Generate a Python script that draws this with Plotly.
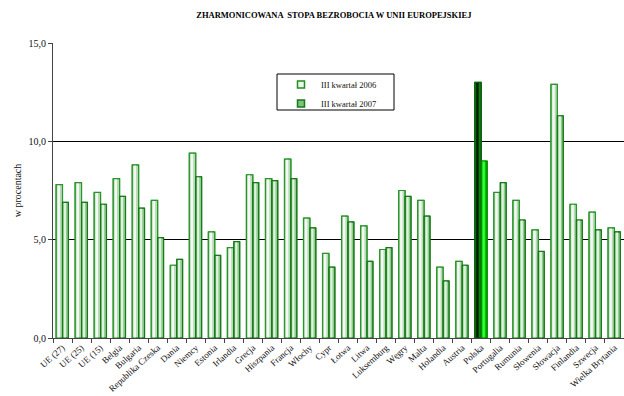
import plotly.graph_objects as go

# Harmonised unemployment rate in the EU, Q3 2006 vs Q3 2007 (%)
countries = [
    "UE (27)", "UE (25)", "UE (15)", "Belgia", "Bulgaria", "Republika Czeska",
    "Dania", "Niemcy", "Estonia", "Irlandia", "Grecja", "Hiszpania", "Francja",
    "Włochy", "Cypr", "Łotwa", "Litwa", "Luksemburg", "Węgry", "Malta",
    "Holandia", "Austria", "Polska", "Portugalia", "Rumunia", "Słowenia",
    "Słowacja", "Finlandia", "Szwecja", "Wielka Brytania",
]
q3_2006 = [7.8, 7.9, 7.4, 8.1, 8.8, 7.0, 3.7, 9.4, 5.4, 4.6, 8.3, 8.1, 9.1,
           6.1, 4.3, 6.2, 5.7, 4.5, 7.5, 7.0, 3.6, 3.9, 13.0, 7.4, 7.0, 5.5,
           12.9, 6.8, 6.4, 5.6]
q3_2007 = [6.9, 6.9, 6.8, 7.2, 6.6, 5.1, 4.0, 8.2, 4.2, 4.9, 7.9, 8.0, 8.1,
           5.6, 3.6, 5.9, 3.9, 4.6, 7.2, 6.2, 2.9, 3.7, 9.0, 7.9, 6.0, 4.4,
           11.3, 6.0, 5.5, 5.4]
series_names = ["III kwartał 2006", "III kwartał 2007"]
highlight = "Polska"

serif = "Liberation Serif, Times New Roman, serif"


def per_bar(normal, special):
    return [special if c == highlight else normal for c in countries]


styles = [
    # offset/width within the category, base fill, shine stripe, outline
    dict(vals=q3_2006, off=-0.34, w=0.34,
         base=per_bar("#b5dcb5", "#0f7f0f"),
         shine=per_bar("#f6f6f6", "#001c00"),
         line=per_bar("#2a962a", "#0a5e0a"),
         key_fill="#eef7ee", key_line="#1f8f1f"),
    dict(vals=q3_2007, off=0.0, w=0.31,
         base=per_bar("#8fcc8f", "#00c400"),
         shine=per_bar("#dff1df", "#3cff3c"),
         line=per_bar("#177a17", "#008a00"),
         key_fill="#7cc47c", key_line="#177a17"),
]

fig = go.Figure()
for name, st in zip(series_names, styles):
    # body of the bar
    fig.add_trace(go.Bar(
        x=countries, y=st["vals"], name=name, offset=st["off"], width=st["w"],
        marker=dict(color=st["base"], line=dict(color=st["line"], width=1)),
        showlegend=False,
    ))
    # lighter stripe giving the cylinder shading
    fig.add_trace(go.Bar(
        x=countries, y=st["vals"], offset=st["off"] + st["w"] * 0.22,
        width=st["w"] * 0.38,
        marker=dict(color=st["shine"], line=dict(width=0)),
        showlegend=False, hoverinfo="skip",
    ))
    # outline on top
    fig.add_trace(go.Bar(
        x=countries, y=st["vals"], offset=st["off"], width=st["w"],
        marker=dict(color="rgba(0,0,0,0)", line=dict(color=st["line"], width=1.2)),
        showlegend=False, hoverinfo="skip",
    ))

# legend keys: small squares
for name, st in zip(series_names, styles):
    fig.add_trace(go.Scatter(
        x=[None], y=[None], mode="markers", name=name,
        marker=dict(symbol="square", size=7, color=st["key_fill"],
                    line=dict(color=st["key_line"], width=1.5)),
        showlegend=True,
    ))

# frame around the legend
fig.add_shape(
    type="rect", xref="paper", yref="paper",
    x0=(277 - 53) / 571, x1=(394 - 53) / 571,
    y0=(338 - 110) / 295, y1=(338 - 74) / 295,
    line=dict(color="#000000", width=1), fillcolor="white", layer="below",
)

fig.update_layout(
    width=624, height=396,
    margin=dict(l=53, r=0, t=43, b=58),
    barmode="overlay",
    separators=", ",
    paper_bgcolor="white", plot_bgcolor="white",
    font=dict(family=serif, color="#111111"),
    title=dict(
        text="<b>ZHARMONICOWANA  STOPA BEZROBOCIA W UNII EUROPEJSKIEJ</b>",
        x=0.535, xanchor="center", y=0.962, yanchor="middle",
        font=dict(family=serif, size=8.5, color="#000000"),
    ),
    legend=dict(
        x=(281 - 53) / 571, y=(338 - 70) / 295, xanchor="left", yanchor="top",
        bgcolor="rgba(0,0,0,0)", borderwidth=0,
        font=dict(family=serif, size=8.5, color="#111111"),
        traceorder="normal", itemwidth=30, tracegroupgap=0,
    ),
    xaxis=dict(
        type="category", range=[-0.5, 29.5],
        showline=True, linecolor="#444444", linewidth=1,
        ticks="outside", tickson="boundaries", ticklen=4, tickcolor="#444444",
        tickangle=-42, tickfont=dict(family=serif, size=9, color="#111111"),
        showgrid=False, automargin=False,
    ),
    yaxis=dict(
        range=[0, 15], dtick=5, tickformat=".1f",
        showline=True, linecolor="#444444", linewidth=1,
        ticks="outside", ticklen=4, tickcolor="#444444",
        tickfont=dict(family=serif, size=10, color="#111111"),
        showgrid=True, gridcolor="#000000", gridwidth=1,
        zeroline=False, automargin=False,
        title=dict(text="w procentach", standoff=5,
                   font=dict(family=serif, size=10, color="#111111")),
    ),
)

fig.write_html("out.html")
